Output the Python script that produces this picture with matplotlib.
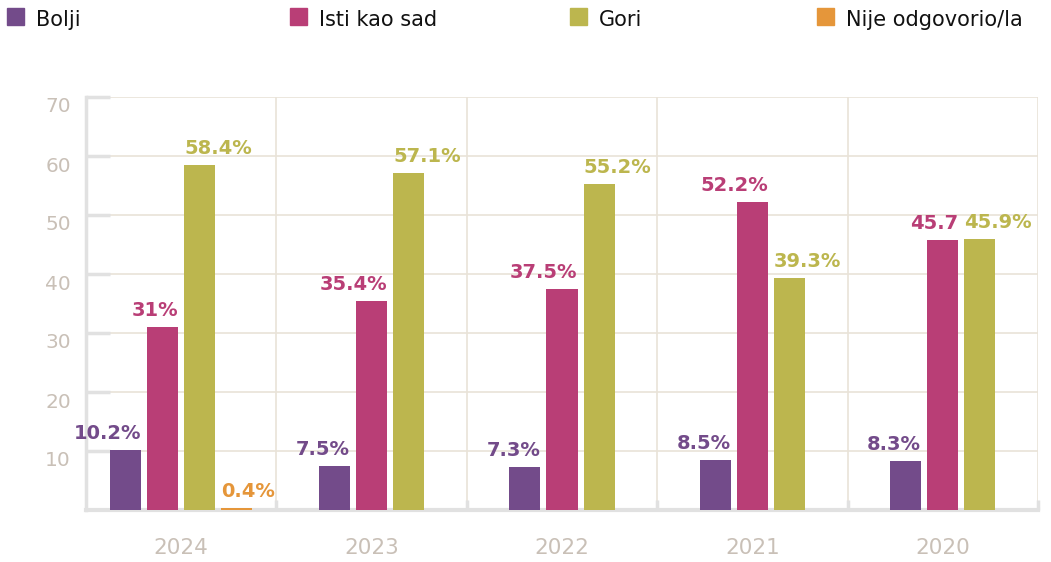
import matplotlib
matplotlib.use("Agg")
import matplotlib.pyplot as plt
from matplotlib.patches import Rectangle
from matplotlib.transforms import ScaledTranslation, blended_transform_factory
import numpy as np

years = ["2024", "2023", "2022", "2021", "2020"]
series = ["Bolji", "Isti kao sad", "Gori", "Nije odgovorio/la"]
bolji = [10.2, 7.5, 7.3, 8.5, 8.3]
isti = [31, 35.4, 37.5, 52.2, 45.7]
gori = [58.4, 57.1, 55.2, 39.3, 45.9]
nije = [0.4, None, None, None, None]
labels_bolji = ["10.2%", "7.5%", "7.3%", "8.5%", "8.3%"]
labels_isti = ["31%", "35.4%", "37.5%", "52.2%", "45.7"]
labels_gori = ["58.4%", "57.1%", "55.2%", "39.3%", "45.9%"]
labels_nije = ["0.4%", None, None, None, None]
yticks = [10, 20, 30, 40, 50, 60, 70]

colors = ["#734b8a", "#b93e76", "#bcb64e", "#e5963a"]
grid_c = "#e9e3d8"
tick_c = "#c9c0b7"
axis_c = "#e1e1e1"

fig = plt.figure(figsize=(10.51, 5.62), dpi=100)
ax = fig.add_axes([86/1051, 1-510/562, (1038-86)/1051, (510-97)/562])

data = [bolji, isti, gori, nije]
labs = [labels_bolji, labels_isti, labels_gori, labels_nije]
bw = 0.163
step = 0.195

for g in range(len(years)):
    present = [s for s in range(4) if data[s][g] is not None]
    n = len(present)
    center = g + 0.5
    for k, s in enumerate(present):
        x = center + (k - (n - 1) / 2) * step
        v = data[s][g]
        ax.bar(x, v, width=bw, color=colors[s], zorder=6)
        if s in (0, 1):
            ax.annotate(labs[s][g], (x + bw / 2, v), xytext=(0, 8), textcoords="offset points",
                        ha="right", va="baseline", color=colors[s], fontsize=14,
                        fontweight="heavy", zorder=7)
        else:
            ax.annotate(labs[s][g], (x - bw / 2, v), xytext=(0, 8), textcoords="offset points",
                        ha="left", va="baseline", color=colors[s], fontsize=14,
                        fontweight="heavy", zorder=7)

ax.set_xlim(0, len(years))
ax.set_ylim(0, 70)

# grid
for y in yticks:
    ax.axhline(y, color=grid_c, lw=1.2, zorder=1)
for x in range(1, len(years) + 1):
    ax.axvline(x, color=grid_c, lw=1.2, zorder=1)

# y ticks as inward marks
ax.set_yticks(yticks)
ax.tick_params(axis="y", direction="in", length=17, width=2.5, color=axis_c, labelleft=False)
off = ScaledTranslation(-15/100, -10/100, fig.dpi_scale_trans)
tr = blended_transform_factory(ax.transAxes, ax.transData) + off
for y in yticks:
    ax.text(0, y, str(y), transform=tr, ha="right", va="center", fontsize=14.5, color=tick_c)

# x ticks
ax.set_xticks(np.arange(len(years)) + 0.5)
ax.set_xticklabels(years, fontsize=15.5, color=tick_c)
ax.tick_params(axis="x", length=0, pad=20)
ax.set_xticks(np.arange(1, len(years) + 1), minor=True)
ax.tick_params(axis="x", which="minor", direction="in", length=7, width=2.5, color=axis_c)

for sp in ["top", "right"]:
    ax.spines[sp].set_visible(False)
ax.spines["left"].set_color(axis_c)
ax.spines["left"].set_linewidth(2.5)
ax.spines["bottom"].set_color(axis_c)
ax.spines["bottom"].set_linewidth(3)
ax.spines["left"].set_zorder(5)
ax.spines["bottom"].set_zorder(5)

# legend
leg_x = [7, 290, 570, 817]
for s, lx in enumerate(leg_x):
    fig.patches.append(Rectangle((lx/1051, 1-25/562), 17/1051, 17/562,
                                 transform=fig.transFigure, color=colors[s]))
    fig.text((lx + 29)/1051, 1-20/562, series[s], fontsize=15, color="#111111",
             ha="left", va="center")

fig.savefig("out.png", dpi=100)
